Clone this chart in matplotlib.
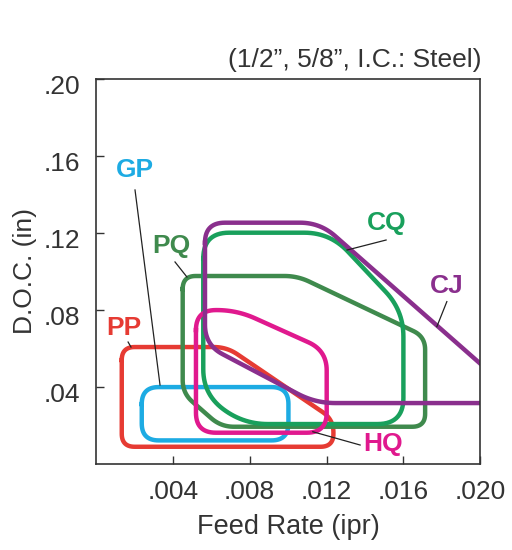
import numpy as np
import matplotlib.pyplot as plt
from matplotlib.transforms import ScaledTranslation

plt.rcParams['font.family'] = ['Liberation Sans', 'DejaVu Sans']

# corner points of each outline (feed rate ipr, depth of cut in)
pp_x = [0.00135, 0.00681, 0.01236, 0.01236, 0.00135]
pp_y = [0.0606, 0.0606, 0.0230, 0.0088, 0.0088]

gp_x = [0.00239, 0.01002, 0.01002, 0.00239]
gp_y = [0.0398, 0.0398, 0.0121, 0.0121]

pq_x = [0.00452, 0.01049, 0.01713, 0.01713, 0.00651, 0.00452]
pq_y = [0.0975, 0.0975, 0.0660, 0.0192, 0.0192, 0.0366]

cq_x = [0.00559, 0.01219, 0.01600, 0.01600, 0.00766, 0.00559]
cq_y = [0.1200, 0.1200, 0.0795, 0.0206, 0.0206, 0.0361]

hq_x = [0.00521, 0.00733, 0.01201, 0.01201, 0.00521]
hq_y = [0.0798, 0.0798, 0.0588, 0.0161, 0.0161]

cj_x = [0.00568, 0.01166, 0.02233, 0.01142, 0.00568]
cj_y = [0.1252, 0.1252, 0.0315, 0.0315, 0.0617]

names = ['PP', 'GP', 'PQ', 'CQ', 'HQ', 'CJ']
colors = ['#e63b33', '#1dabe3', '#3f8a4d', '#19a05c', '#e0198e', '#8a2f8d']
radius = [13, 17, 13, 26, 20, 20]   # corner rounding, px

label_x = [0.00147, 0.00204, 0.00391, 0.01515, 0.01494, 0.01827]
label_y = [0.0705, 0.1526, 0.1131, 0.1250, 0.0102, 0.0923]

# leader lines: label end -> outline end
lead_x = [[0.00168, 0.00183], [0.00204, 0.00334], [0.00412, 0.00474],
          [0.01510, 0.01307], [0.01375, 0.01129], [0.01826, 0.01774]]
lead_y = [[0.0632, 0.0606], [0.1422, 0.0409], [0.1048, 0.0970],
          [0.1162, 0.1110], [0.0097, 0.0166], [0.0842, 0.0712]]

XMAX, YMAX = 0.020, 0.20
AX_PX = 385.0


def rounded(xs, ys, r_px):
    p = np.column_stack([np.array(xs) / XMAX, np.array(ys) / YMAX])
    r = r_px / AX_PX
    n = len(p)
    out = []
    t = np.linspace(0, 1, 16)[:, None]
    for i in range(n):
        P = p[i]
        A = p[i - 1]
        B = p[(i + 1) % n]
        da = A - P
        db = B - P
        la = np.hypot(*da)
        lb = np.hypot(*db)
        rr = min(r, la / 2, lb / 2)
        p1 = P + da / la * rr
        p2 = P + db / lb * rr
        out.extend((1 - t) ** 2 * p1 + 2 * (1 - t) * t * P + t ** 2 * p2)
    out.append(out[0])
    out = np.array(out)
    return out[:, 0] * XMAX, out[:, 1] * YMAX


fig = plt.figure(figsize=(5.12, 5.5), dpi=100)
ax = fig.add_axes([95.8 / 512, 1 - 463.7 / 550, 384.5 / 512, 385 / 550])

shapes = [(pp_x, pp_y), (gp_x, gp_y), (pq_x, pq_y),
          (cq_x, cq_y), (hq_x, hq_y), (cj_x, cj_y)]

for i, (sx, sy) in enumerate(shapes):
    x, y = rounded(sx, sy, radius[i])
    ax.plot(x, y, color=colors[i], lw=3.2, solid_joinstyle='round')

for i in range(len(names)):
    ax.plot(lead_x[i], lead_y[i], color='#222222', lw=0.9)
    ax.text(label_x[i], label_y[i], names[i], color=colors[i], fontsize=19,
            fontweight='bold', ha='center', va='center')

ax.set_xlim(0, XMAX)
ax.set_ylim(0, YMAX)

xt = [0.004, 0.008, 0.012, 0.016, 0.020]
yt = [0.04, 0.08, 0.12, 0.16, 0.20]
ax.set_xticks(xt)
ax.set_xticklabels(['.004', '.008', '.012', '.016', '.020'])
ax.set_yticks(yt)
ax.set_yticklabels(['.04', '.08', '.12', '.16', '.20'])

ax.tick_params(direction='in', length=6, width=1, color='#333333',
               labelcolor='#333333', labelsize=19)
ax.tick_params(axis='x', pad=12)
ax.tick_params(axis='y', pad=11)
for lab in ax.get_yticklabels():
    lab.set_transform(lab.get_transform() +
                      ScaledTranslation(0, -6 / 100, fig.dpi_scale_trans))

for s in ax.spines.values():
    s.set_color('#333333')
    s.set_linewidth(1.2)

ax.set_xlabel('Feed Rate (ipr)', fontsize=19.5, color='#333333', labelpad=7)
ax.set_ylabel('D.O.C. (in)', fontsize=19, color='#333333', labelpad=5)

fig.text(482 / 512, 1 - 60 / 550, '(1/2\u201d, 5/8\u201d, I.C.: Steel)',
         ha='right', va='center', fontsize=19, color='#333333')

fig.savefig('out.png', dpi=100)
